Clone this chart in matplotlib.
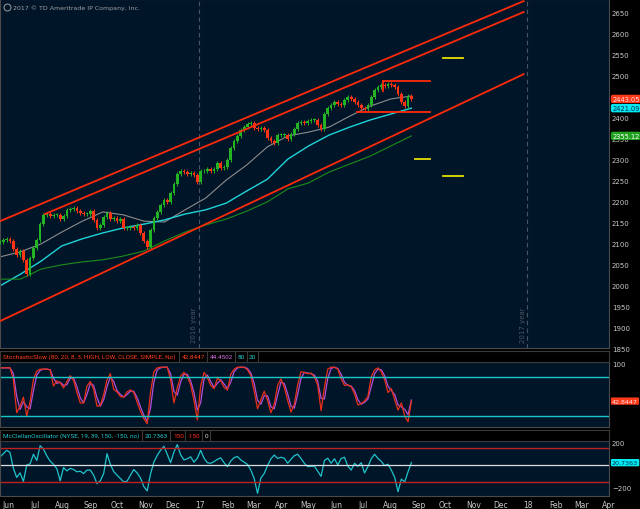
import matplotlib
matplotlib.use('Agg')
import matplotlib.pyplot as plt
import matplotlib.dates as mdates
import pandas as pd

# closes, one every ~3.7 calendar days
closes = [2102, 2107, 2110, 2105, 2086, 2071, 2081, 2060, 2026, 2064,
          2088, 2107, 2145, 2167, 2169, 2164, 2167, 2167, 2157, 2164,
          2179, 2181, 2183, 2176, 2171, 2169, 2169, 2176, 2155, 2136,
          2143, 2162, 2171, 2157, 2160, 2152, 2157, 2136, 2136, 2138,
          2136, 2143, 2124, 2105, 2090, 2131, 2160, 2174, 2190, 2202,
          2198, 2219, 2240, 2264, 2271, 2269, 2264, 2267, 2262, 2245,
          2271, 2271, 2276, 2271, 2276, 2290, 2279, 2281, 2298, 2326,
          2343, 2355, 2369, 2376, 2383, 2386, 2374, 2371, 2374, 2369,
          2350, 2343, 2338, 2357, 2357, 2357, 2348, 2360, 2371, 2386,
          2388, 2386, 2390, 2393, 2393, 2381, 2371, 2407, 2421, 2429,
          2436, 2431, 2429, 2440, 2448, 2443, 2436, 2429, 2421, 2419,
          2429, 2448, 2464, 2471, 2476, 2474, 2479, 2476, 2471, 2455,
          2436, 2426, 2450, 2443.05]

stoch_k = [94, 94, 94, 94, 76, 25, 35, 49, 20, 42,
           76, 89, 92, 92, 92, 91, 66, 74, 71, 63,
           73, 82, 75, 56, 40, 40, 66, 73, 61, 35,
           36, 53, 76, 85, 61, 57, 50, 49, 57, 60,
           56, 41, 27, 16, 8, 56, 88, 94, 95, 95,
           95, 76, 40, 63, 81, 87, 81, 68, 44, 14,
           66, 87, 79, 67, 62, 78, 74, 64, 60, 84,
           92, 95, 95, 95, 91, 82, 58, 31, 45, 58,
           44, 25, 38, 67, 77, 64, 44, 26, 38, 68,
           88, 87, 85, 86, 80, 67, 28, 64, 92, 95,
           95, 92, 77, 67, 68, 65, 54, 37, 39, 43,
           50, 80, 91, 94, 88, 76, 56, 62, 45, 29,
           40, 20, 11, 42.8447]

stoch_d = [94, 94, 94, 94, 85, 50, 30, 42, 34, 31,
           59, 83, 90, 92, 92, 91, 78, 70, 72, 67,
           68, 78, 78, 65, 48, 40, 53, 70, 67, 48,
           35, 45, 65, 80, 73, 59, 53, 49, 53, 58,
           58, 48, 34, 21, 12, 32, 72, 91, 94, 95,
           95, 85, 58, 52, 72, 84, 84, 74, 56, 29,
           40, 77, 83, 73, 64, 70, 76, 69, 62, 72,
           88, 94, 95, 95, 93, 86, 70, 44, 38, 51,
           51, 34, 31, 52, 72, 70, 54, 35, 32, 53,
           78, 87, 86, 85, 83, 73, 47, 46, 78, 93,
           95, 93, 84, 72, 67, 66, 59, 45, 38, 41,
           46, 65, 85, 92, 91, 82, 66, 59, 53, 37,
           34, 30, 22, 44.4502]

mcclellan = [70, 100, 130, 110, -30, -110, -70, -145, 0, 10,
             95, 40, 170, 140, 80, 35, 5, -33, -140, -22,
             -52, -30, -40, -60, -55, -75, -45, -45, -90, -165,
             -140, -75, 100, 5, -58, -90, -120, -150, -143, -90,
             -40, -70, -115, -190, -229, -80, 25, 85, 130, 165,
             95, 20, 115, 180, 90, 45, 55, 72, 25, 60,
             130, 60, 20, 15, 30, 50, 63, 20, -15, 35,
             65, 75, 45, 25, 5, -45, -120, -250, -115, -75,
             -5, 55, 88, 58, 68, 60, 15, 50, 83, 95,
             57, 15, -14, -12, -10, -55, -100, 40, 60, 15,
             55, 0, 58, 68, -10, -45, 15, -12, 20, -70,
             -15, 55, 95, 58, 32, -5, 7, -45, -110, -235,
             -125, -150, -60, 20.7363]

# moving averages, sampled coarser
sma_gray = [2067, 2079, 2098, 2126, 2152, 2174, 2167, 2152, 2150, 2179, 2207,
            2250, 2286, 2329, 2355, 2364, 2376, 2402, 2426, 2443, 2450]
sma_cyan = [1998, 2026, 2057, 2093, 2110, 2124, 2136, 2145, 2155, 2169, 2179,
            2195, 2224, 2252, 2300, 2331, 2357, 2376, 2393, 2407, 2421.09]
sma_green = [2014, 2014, 2038, 2048, 2055, 2060, 2069, 2081, 2105, 2126, 2143,
             2157, 2176, 2198, 2229, 2243, 2269, 2288, 2307, 2331, 2355.12]

# drawn trendlines: (start, price, end, price)
channel_lines = [('2016-05-23', 2152, '2017-12-27', 2676),
                 ('2016-07-12', 2169, '2017-12-27', 2650),
                 ('2016-05-23', 1914, '2017-12-27', 2502)]
box_lines = [('2017-07-23', 2486, '2017-09-14'),
             ('2017-06-25', 2412, '2017-09-14')]
yellow_levels = [('2017-09-28', 2540, '2017-10-20'),
                 ('2017-08-28', 2300, '2017-09-14'),
                 ('2017-09-28', 2260, '2017-10-20')]
year_lines = [('2016-12-30', '2016 year'), ('2017-12-31', '2017 year')]
price_ticks = [1850, 1900, 1950, 2000, 2050, 2100, 2150, 2200, 2250, 2300,
               2350, 2400, 2500, 2550, 2600, 2650]

dates = pd.date_range('2016-05-23', '2017-08-24', periods=len(closes))
ma_dates = pd.date_range('2016-05-23', '2017-08-24', periods=len(sma_gray))

BG = '#011529'
GREEN = '#22b422'
RED = '#ff3414'
LBL = '#c8c8c8'

fig = plt.figure(figsize=(6.4, 5.1), dpi=100, facecolor='black')


def px_axes(top, bottom, left=0, right=609):
    return fig.add_axes([left / 640, 1 - bottom / 510, (right - left) / 640, (bottom - top) / 510])


ax = px_axes(0, 349)
ax_st = px_axes(363, 428, 0, 609)
ax_mc = px_axes(442, 497, 0, 609)
for a in (ax, ax_st, ax_mc):
    a.set_facecolor(BG)
    for s in a.spines.values():
        s.set_color('#4a4a4a')
        s.set_linewidth(0.8)
    a.yaxis.tick_right()
    a.tick_params(axis='y', length=0, pad=2, labelsize=5, labelcolor=LBL)
    a.tick_params(axis='x', length=0)
    a.set_xlim(pd.Timestamp('2016-05-23'), pd.Timestamp('2018-04-01'))

# candles
opens = [closes[0]] + closes[:-1]
for d, o, c in zip(dates, opens, closes):
    col = GREEN if c >= o else RED
    lo, hi = min(o, c), max(o, c)
    ax.vlines(d, lo - 5, hi + 5, color=col, lw=0.7, zorder=3)
    ax.bar(d, max(hi - lo, 1.5), bottom=lo, width=3.0, color=col, lw=0, zorder=3)

ax.plot(ma_dates, sma_gray, color='#8c8c8c', lw=0.8, zorder=2)
ax.plot(ma_dates, sma_cyan, color='#1fd3d8', lw=1.0, zorder=2)
ax.plot(ma_dates, sma_green, color='#1b8c1b', lw=0.8, zorder=2)

for d0, p0, d1, p1 in channel_lines:
    ax.plot([pd.Timestamp(d0), pd.Timestamp(d1)], [p0, p1], color='#ff2a0a', lw=1.3, zorder=4)
for d0, p, d1 in box_lines:
    ax.plot([pd.Timestamp(d0), pd.Timestamp(d1)], [p, p], color='#ff2a0a', lw=1.3, zorder=4)
ax.plot([pd.Timestamp('2017-07-23')] * 2, [2486, 2462], color='#ff2a0a', lw=1.3, zorder=4)
for d0, p, d1 in yellow_levels:
    ax.plot([pd.Timestamp(d0), pd.Timestamp(d1)], [p, p], color='#e8e000', lw=1.3, zorder=4)

for d, txt in year_lines:
    ax.axvline(pd.Timestamp(d), color='#4a5360', lw=0.8, ls=(0, (4, 3)), zorder=1)
    ax.text(pd.Timestamp(d) - pd.Timedelta(days=5), 1865, txt, rotation=90, fontsize=5,
            color='#4a5360', ha='center', va='bottom')

ax.set_ylim(1850, 2681)
ax.set_yticks(price_ticks)
ax.set_xticklabels([])

ytr = ax.get_yaxis_transform()
for val, fc, tc in [(closes[-1], '#ff3a1a', '#ffe0e0'), (sma_cyan[-1], '#00e8f0', '#013050'),
                    (sma_green[-1], '#1fa01f', '#ffffff')]:
    ax.text(1.005, val, f'{val:.2f}', transform=ytr, fontsize=4.8, color=tc, va='center', ha='left',
            bbox=dict(boxstyle='round,pad=0.18,rounding_size=0.3', fc=fc, ec='none'), zorder=6, clip_on=False)

ax.plot([0.012], [0.977], marker='o', ms=5, mfc='none', mec='#a0a0a0', mew=0.7, transform=ax.transAxes)
ax.text(0.022, 0.977, '2017 © TD Ameritrade IP Company, Inc.', transform=ax.transAxes, fontsize=4.5,
        color='#a0a0a0', va='center')

# stochastic
ax_st.plot(dates, stoch_d, color='#b050d8', lw=0.9)
ax_st.plot(dates, stoch_k, color='#e83018', lw=0.9)
ax_st.axhline(80, color='#18c8c8', lw=1.0)
ax_st.axhline(20, color='#18c8c8', lw=1.0)
ax_st.set_ylim(3, 103)
ax_st.set_yticks([100])
ax_st.set_xticklabels([])
ax_st.text(1.005, stoch_k[-1], f'{stoch_k[-1]:.4f}', transform=ax_st.get_yaxis_transform(), fontsize=4.6,
           color='#ffe0e0', va='center', bbox=dict(boxstyle='round,pad=0.18', fc='#ff3a1a', ec='none'),
           clip_on=False)

# mcclellan
ax_mc.plot(dates, mcclellan, color='#20c4cc', lw=0.9)
ax_mc.axhline(150, color='#c02020', lw=1.0)
ax_mc.axhline(-150, color='#c02020', lw=1.0)
ax_mc.axhline(0, color='#dddddd', lw=0.9)
ax_mc.set_ylim(-274, 212)
ax_mc.set_yticks([-200, 200])
ax_mc.text(1.005, mcclellan[-1], f'{mcclellan[-1]:.4f}', transform=ax_mc.get_yaxis_transform(), fontsize=4.6,
           color='#013050', va='center', bbox=dict(boxstyle='round,pad=0.18', fc='#00e8f0', ec='none'),
           clip_on=False)

ax_mc.xaxis.set_major_locator(mdates.MonthLocator())
ax_mc.xaxis.set_major_formatter(
    plt.FuncFormatter(lambda v, p: mdates.num2date(v).strftime('%y') if mdates.num2date(v).month == 1
                      else mdates.num2date(v).strftime('%b')))
ax_mc.tick_params(axis='x', labelsize=5.5, labelcolor=LBL, pad=3)

# indicator header strips
headers = [
    (352, 363, [('StochasticSlow (80, 20, 8, 3, HIGH, LOW, CLOSE, SIMPLE, No)', '#ff4020', 3),
                ('42.8447', '#ff4020', 182), ('44.4502', '#d070e0', 210),
                ('80', '#20d0d0', 238), ('20', '#20d0d0', 249)],
     [179, 207, 235, 247, 258]),
    (431, 442, [('McClellanOscillator (NYSE, 19, 39, 150, -150, no)', '#20c8d0', 3),
                ('20.7363', '#20c8d0', 145), ('150', '#ff3020', 173), ('-150', '#ff3020', 188),
                ('0', '#e0e0e0', 205)],
     [142, 170, 185, 202, 210]),
]
for top, bot, items, divs in headers:
    h = px_axes(top, bot, 0, 609)
    h.set_facecolor('black')
    h.set_xlim(0, 609)
    h.set_ylim(0, 1)
    h.set_xticks([])
    h.set_yticks([])
    for s in h.spines.values():
        s.set_color('#3a3a3a')
        s.set_linewidth(0.8)
    for txt, col, x in items:
        h.text(x, 0.5, txt, color=col, fontsize=4.6, va='center', ha='left', family='Roboto')
    for x in divs:
        h.axvline(x, color='#3a3a3a', lw=0.8)

fig.savefig('out.png', dpi=100, facecolor='black')
